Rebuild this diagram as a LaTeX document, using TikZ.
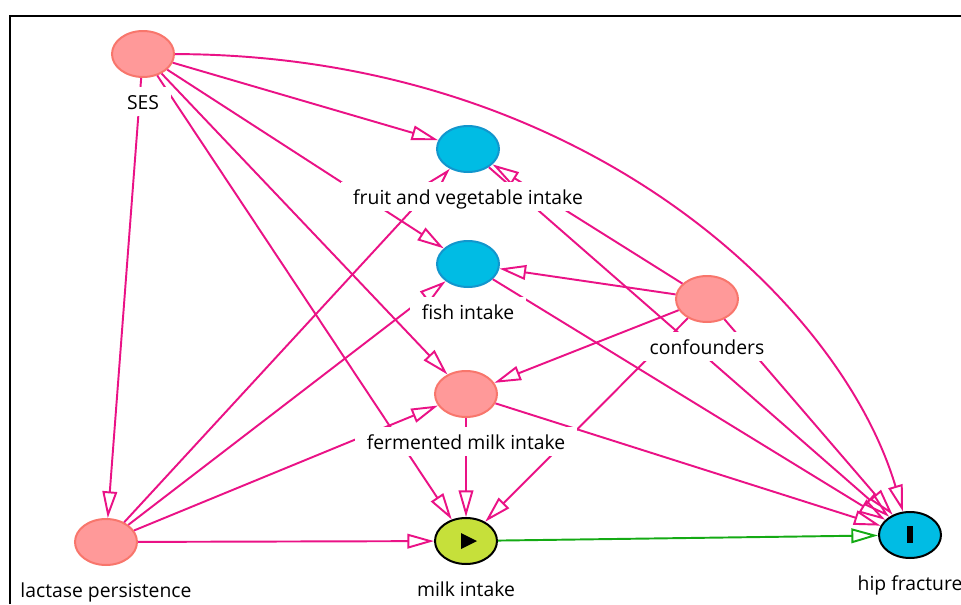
\documentclass[tikz,border=0pt]{standalone}
\usepackage{fontspec}
\setmainfont{Open Sans}
\usetikzlibrary{positioning}
\usetikzlibrary{shapes.geometric}
\usetikzlibrary{arrows.meta}
\usepackage{xcolor}

\definecolor{edgepink}{RGB}{234,18,134}
\definecolor{edgegreen}{RGB}{20,170,20}
\definecolor{nodepink}{RGB}{255,153,153}
\definecolor{nodepinkline}{RGB}{248,118,108}
\definecolor{nodeblue}{RGB}{0,188,228}
\definecolor{nodeblueline}{RGB}{18,150,205}
\definecolor{expogreen}{RGB}{198,224,58}

\begin{document}
\begin{tikzpicture}[
		x=0.75pt, y=-0.75pt,
		% Style definitions - one per variable type
		var/.style={ellipse, line width=1.5pt, minimum width=46.5pt, minimum height=34.5pt, inner sep=0pt},
		other/.style={var, fill=nodepink, draw=nodepinkline},
		anc/.style={var, fill=nodeblue, draw=nodeblueline},
		expo/.style={var, fill=expogreen, draw=black},
		outc/.style={var, fill=nodeblue, draw=black},
		lab/.style={fill=white, inner xsep=9pt, inner ysep=0pt, text height=17pt, text depth=5pt, font=\fontsize{14.5pt}{16pt}\selectfont},
		arrow/.style={-{Triangle[open, length=20pt, width=11pt]}, line width=1.45pt, draw=edgepink},
		causal/.style={arrow, draw=edgegreen},
		node distance=6.5pt,
		]
		\useasboundingbox (0,0) rectangle (961,604);

		% Variables
		\node[other] (ses) at (143,54) {};
		\node[anc] (fruitveg) at (468,149) {};
		\node[anc] (fish) at (468,264) {};
		\node[other] (conf) at (707,299) {};
		\node[other] (fermented) at (466,394) {};
		\node[other] (lactase) at (106,542) {};
		\node[expo] (milk) at (466,541) {};
		\node[outc] (hip) at (910,535) {};

		% Exposure and outcome marks
		\fill (milk.center) ++(-5,-8) -- ++(0,16) -- ++(16,-8) -- cycle;
		\fill ([shift={(-3,-9)}]hip.center) rectangle ([shift={(3,8)}]hip.center);

		% Arrows - from SES
		\draw[arrow] (ses) -- (fruitveg);
		\draw[arrow] (ses) -- (fish);
		\draw[arrow] (ses) -- (fermented);
		\draw[arrow] (ses) -- (milk);
		\draw[arrow] (ses) -- (lactase);
		\draw[arrow] (ses) .. controls (580,55) and (840,300) .. (hip);

		% Arrows - from lactase persistence
		\draw[arrow] (lactase) -- (fruitveg);
		\draw[arrow] (lactase) -- (fish);
		\draw[arrow] (lactase) -- (fermented);
		\draw[arrow] (lactase) -- (milk);

		% Arrows - from confounders
		\draw[arrow] (conf) -- (fruitveg);
		\draw[arrow] (conf) -- (fish);
		\draw[arrow] (conf) -- (fermented);
		\draw[arrow] (conf) -- (milk);
		\draw[arrow] (conf) -- (hip);

		% Arrows - diet to milk intake and hip fracture
		\draw[arrow] (fruitveg) -- (hip);
		\draw[arrow] (fish) -- (hip);
		\draw[arrow] (fermented) -- (milk);
		\draw[arrow] (fermented) -- (hip);

		% Causal path
		\draw[causal] (milk) -- (hip);

		% Labels (white boxes over the lines)
		\node[lab, below=of ses] (ses-lab) {SES};
		\node[lab, below=of fruitveg] (fruitveg-lab) {fruit and vegetable intake};
		\node[lab, below=of fish] (fish-lab) {fish intake};
		\node[lab, below=of conf] (conf-lab) {confounders};
		\node[lab, below=of fermented] (fermented-lab) {fermented milk intake};
		\node[lab, below=of lactase] (lactase-lab) {lactase persistence};
		\node[lab, below=of milk] (milk-lab) {milk intake};
		\node[lab, below=of hip] (hip-lab) {hip fracture};

		% Frame
		\draw[line width=1.5pt] (10,604) -- (10,15.5) -- (961,15.5);

	\end{tikzpicture}
\end{document}
